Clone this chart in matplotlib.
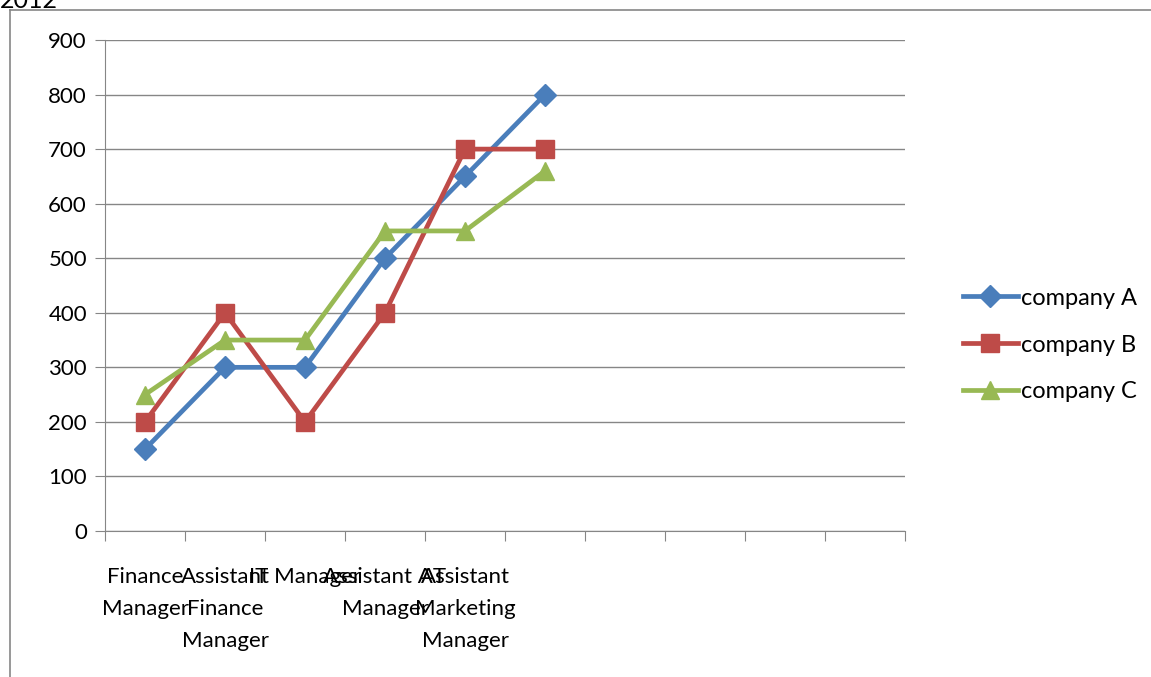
import matplotlib.pyplot as plt
from matplotlib.lines import Line2D

plt.rcParams['font.family'] = ['Lato', 'DejaVu Sans']

# dados
categorias = ["Finance\nManager", "Assistant\nFinance\nManager", "IT Manager",
              "Assistant AT\nManager", "Assistant\nMarketing\nManager", "",
              "", "", "", ""]
company_a = [150, 300, 300, 500, 650, 800]
company_b = [200, 400, 200, 400, 700, 700]
company_c = [250, 350, 350, 550, 550, 660]
yticks = [0, 100, 200, 300, 400, 500, 600, 700, 800, 900]

fig = plt.figure(figsize=(11.51, 6.77), dpi=100)
ax = fig.add_axes([105 / 1151, 1 - 531 / 677, 800 / 1151, 491 / 677])

x = [i + 0.5 for i in range(len(company_a))]
ax.plot(x, company_a, color="#4A7EBB", linewidth=3.4, marker="D", markersize=11,
        label="company A", solid_capstyle="round")
ax.plot(x, company_b, color="#BE4B48", linewidth=3.4, marker="s", markersize=13,
        label="company B", solid_capstyle="round")
ax.plot(x, company_c, color="#98B954", linewidth=3.4, marker="^", markersize=13,
        label="company C", solid_capstyle="round")

# eixos
ax.set_xlim(0, len(categorias))
ax.set_ylim(0, 900)
ax.set_yticks(yticks)
ax.set_yticklabels([str(v) for v in yticks], fontsize=16)
ax.set_xticks(range(len(categorias) + 1))
ax.set_xticklabels([])
ax.set_xticks([i + 0.5 for i in range(len(categorias))], minor=True)
ax.set_xticklabels(categorias, minor=True, fontsize=16, linespacing=1.75)
ax.tick_params(axis="x", which="major", length=7, color="#868686", direction="out")
ax.tick_params(axis="x", which="minor", length=0, pad=26)
ax.tick_params(axis="y", length=7, color="#868686", pad=6)
ax.grid(True, axis="y", color="#868686", linewidth=1)
ax.set_axisbelow(True)
for s in ["top", "right"]:
    ax.spines[s].set_visible(False)
ax.spines["left"].set_color("#868686")
ax.spines["bottom"].set_color("#868686")

# legenda
handles = [
    Line2D([], [], color="#4A7EBB", linewidth=3.4, marker="D", markersize=11),
    Line2D([], [], color="#BE4B48", linewidth=3.4, marker="s", markersize=13),
    Line2D([], [], color="#98B954", linewidth=3.4, marker="^", markersize=13),
]
fig.legend(handles, ["company A", "company B", "company C"], loc="center left",
           bbox_to_anchor=(942 / 1151, 1 - 345 / 677), frameon=False, fontsize=17,
           handlelength=2.3, handletextpad=0.15, labelspacing=1.1)

# moldura do grafico (recortada)
fig.add_artist(Line2D([10 / 1151, 10 / 1151], [0, 1 - 10 / 677], color="#868686",
                      linewidth=1.2, transform=fig.transFigure))
fig.add_artist(Line2D([10 / 1151, 1], [1 - 10 / 677, 1 - 10 / 677], color="#868686",
                      linewidth=1.2, transform=fig.transFigure))
fig.text(0.0, 1.0, "2012", fontsize=18, va="center", ha="left")

plt.savefig("out.png", dpi=100)
